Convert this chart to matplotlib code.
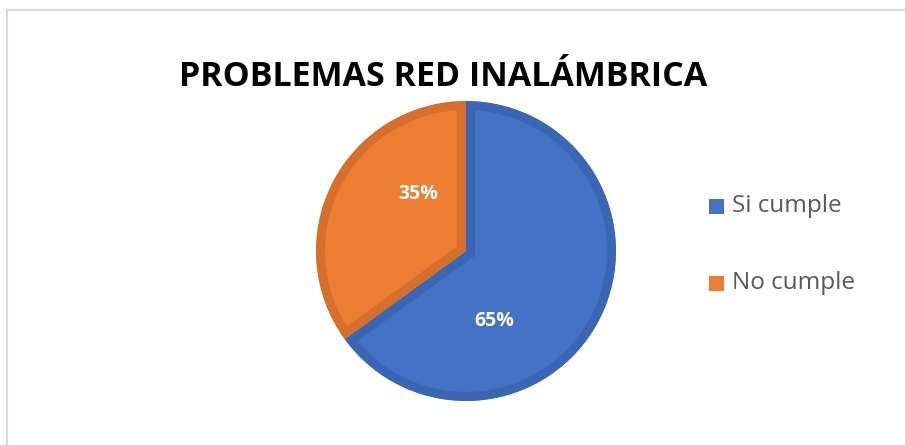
import matplotlib.pyplot as plt
from matplotlib.lines import Line2D
from matplotlib.patches import Rectangle

categories = ["Si cumple", "No cumple"]
values = [65, 35]
labels = ["65%", "35%"]
title = "PROBLEMAS RED INALÁMBRICA"

colors = ["#4472C4", "#ED7D31"]
edges = ["#3B66B4", "#D56F2B"]

W, H = 905, 445
fig = plt.figure(figsize=(W / 100, H / 100), dpi=100)
fig.patch.set_facecolor("white")

cx, cy, r = 466, 251, 150
ax = fig.add_axes([(cx - r) / W, (H - cy - r) / H, 2 * r / W, 2 * r / H])
wedges, _ = ax.pie(values, colors=colors, startangle=90, counterclock=False,
                   radius=1.0, wedgeprops=dict(linewidth=0))
for w, ec in zip(wedges, edges):
    w.set_edgecolor(ec)
    w.set_linewidth(13)
    w.set_clip_on(True)
    w.set_clip_path(w.get_path(), w.get_transform())
ax.set_xlim(-1, 1)
ax.set_ylim(-1, 1)
ax.set_aspect("equal")
ax.axis("off")

# data labels
ax.text(0.19, -0.47, labels[0], ha="center", va="center", color="white",
        fontsize=14, fontweight="bold", family="Open Sans")
ax.text(-0.32, 0.38, labels[1], ha="center", va="center", color="white",
        fontsize=14, fontweight="bold", family="Open Sans")

fig.text(443 / W, 1 - 77 / H, title, ha="center", va="center",
         fontsize=24.5, fontweight="bold", family="Open Sans", color="black")

# legend
leg_y = [206, 283]
for cat, c, yy in zip(categories, colors, leg_y):
    fig.patches.append(Rectangle((709 / W, 1 - (yy + 7.5) / H), 15 / W, 15 / H,
                                 transform=fig.transFigure, facecolor=c,
                                 edgecolor="none"))
    fig.text(732 / W, 1 - yy / H, cat, ha="left", va="center", fontsize=17.5,
             family="Open Sans", color="#595959")

# chart-area border (top & left visible)
fig.add_artist(Line2D([6.5 / W, 6.5 / W], [0, 1 - 9.5 / H], transform=fig.transFigure,
                      color="#D9D9D9", linewidth=1.5))
fig.add_artist(Line2D([6.5 / W, 1], [1 - 9.5 / H, 1 - 9.5 / H], transform=fig.transFigure,
                      color="#D9D9D9", linewidth=1.5))

fig.savefig("out.png", dpi=100)
